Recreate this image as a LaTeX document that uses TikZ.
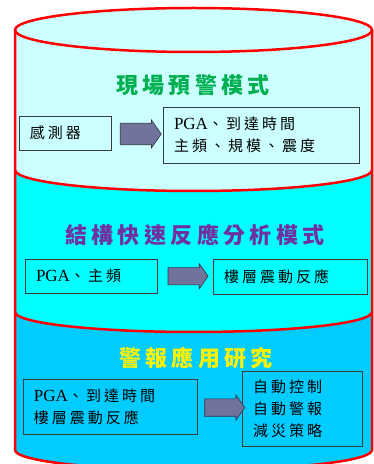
\documentclass[tikz,border=0pt]{standalone}
\usepackage{fontspec}
\setmainfont{Liberation Serif}
\newfontfamily\cjk{Noto Sans CJK TC}
\usetikzlibrary{calc,shapes.arrows}
\definecolor{topcyan}{RGB}{204,255,255}
\definecolor{midcyan}{RGB}{0,255,255}
\definecolor{lowcyan}{RGB}{0,204,255}
\definecolor{titlegreen}{RGB}{0,176,80}
\definecolor{titlepurple}{RGB}{112,48,160}
\definecolor{boxgray}{RGB}{60,60,60}
\definecolor{arrowfill}{RGB}{112,116,156}
\definecolor{arrowline}{RGB}{50,50,70}
\newcommand\lat[1]{{\rmfamily\fontsize{17}{22}\selectfont #1}}
\tikzset{
  textbox/.style={draw=boxgray, line width=0.8pt, inner xsep=11pt, inner ysep=0pt, align=left,
    font=\fontsize{15}{22}\selectfont\cjk\addfontfeature{LetterSpace=20}},
  blockarrow/.style={single arrow, draw=arrowline, fill=arrowfill, line width=0.6pt,
    inner xsep=0pt, inner ysep=6.5pt, minimum height=40pt, minimum width=25pt,
    single arrow head extend=3pt, single arrow tip angle=110},
  title/.style={font=\fontsize{22}{22}\selectfont\cjk\bfseries\addfontfeature{LetterSpace=20}},
  rim/.style={draw=red, line width=2.5pt}
}

\begin{document}
\begin{tikzpicture}[x=1pt,y=1pt]
\useasboundingbox (0,0) rectangle (374,464);
\clip (0,0) rectangle (374,464);
% cylinder
\fill[lowcyan] (15,152) -- (15,14) arc[start angle=180, end angle=360, x radius=178.5, y radius=20] -- (372,152) -- cycle;
\fill[midcyan] (15,294) -- (15,152) arc[start angle=180, end angle=360, x radius=178.5, y radius=20] -- (372,294) -- cycle;
\fill[topcyan] (15,434) -- (15,294) arc[start angle=180, end angle=360, x radius=178.5, y radius=21] -- (372,434) -- cycle;
\fill[topcyan] (193.5,434) ellipse[x radius=178.5, y radius=22];
\draw[rim] (15,294) arc[start angle=180, end angle=360, x radius=178.5, y radius=21];
\draw[rim] (15,152) arc[start angle=180, end angle=360, x radius=178.5, y radius=20];
\draw[rim] (193.5,434) ellipse[x radius=178.5, y radius=22];
\draw[rim] (15,434) -- (15,14) arc[start angle=180, end angle=360, x radius=178.5, y radius=20] -- (372,434);

% titles
\node[title, text=titlegreen] (site) at (193,379) {現場預警模式};
\node[title, text=titlepurple] (struct) at (195,229) {結構快速反應分析模式};
\node[title, text=yellow] (warn) at (196,106) {警報應用研究};

% boxes
\node[textbox, text width=70pt, minimum height=34pt] (sensor) at (65,331) {感測器};
\node[textbox, text width=174pt, minimum height=56pt] (out1) at (261,329) {\lat{PGA}、到達時間\\主頻、規模、震度};
\node[textbox, text width=110pt, minimum height=34pt] (in2) at (91,188) {\lat{PGA}、主頻};
\node[textbox, text width=132pt, minimum height=35pt] (out2) at (290,187.5) {樓層震動反應};
\node[textbox, text width=152pt, minimum height=55pt] (in3) at (110,57.5) {\lat{PGA}、到達時間\\樓層震動反應};
\node[textbox, text width=98pt, minimum height=75pt] (out3) at (302,55.5) {自動控制\\自動警報\\減災策略};

% arrows
\node[blockarrow, minimum height=41pt, minimum width=28pt, inner ysep=9.5pt] (arr1) at ($(sensor.east)!0.5!(out1.west)$) {};
\node[blockarrow] (arr2) at ($(in2.east)!0.5!(out2.west)$) {};
\node[blockarrow] (arr3) at ($(in3.east)!0.55!(out3.west)$) {};
\end{tikzpicture}
\end{document}
